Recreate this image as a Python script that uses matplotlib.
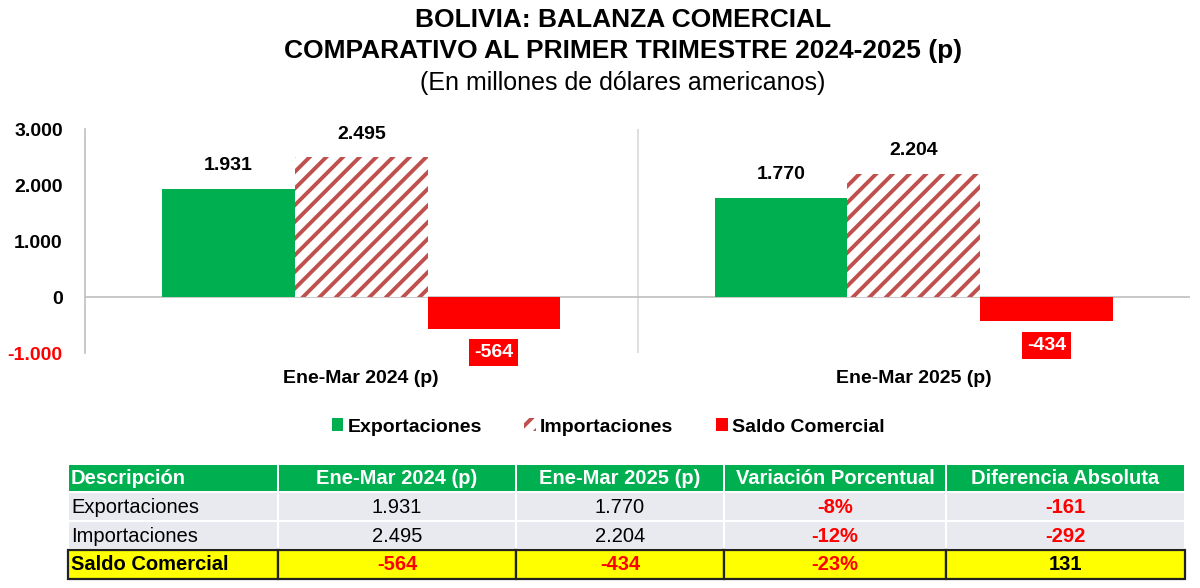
import matplotlib.pyplot as plt
import matplotlib.patches as mpatches
import numpy as np

plt.rcParams['font.family'] = ['Liberation Sans', 'DejaVu Sans']
plt.rcParams['hatch.linewidth'] = 2.8

periodos = ['Ene-Mar 2024 (p)', 'Ene-Mar 2025 (p)']
exportaciones = [1931, 1770]
importaciones = [2495, 2204]
saldo = [-564, -434]

variacion = ['-8%', '-12%', '-23%']
diferencia = [-161, -292, 131]

verde = '#00B050'
rojo = '#FF0000'
ladrillo = '#C0504D'
gris = '#BFBFBF'


def fmt(v):
    return f'{v:,}'.replace(',', '.')


fig = plt.figure(figsize=(12, 5.88), dpi=100)

# titulos
fig.text(623 / 1200, 1 - 20 / 588, 'BOLIVIA: BALANZA COMERCIAL', ha='center', va='center',
         fontsize=19, fontweight='bold')
fig.text(623 / 1200, 1 - 51 / 588, 'COMPARATIVO AL PRIMER TRIMESTRE 2024-2025 (p)', ha='center',
         va='center', fontsize=19, fontweight='bold')
fig.text(623 / 1200, 1 - 83 / 588, '(En millones de dólares americanos)', ha='center', va='center',
         fontsize=18)

# grafico
ax = fig.add_axes([85 / 1200, 1 - 353 / 588, (1190 - 85) / 1200, (353 - 129) / 588])
x = np.arange(len(periodos))
w = 0.24

b1 = ax.bar(x - w, exportaciones, w, color=verde, label='Exportaciones', zorder=3)
b2 = ax.bar(x, importaciones, w, color='white', edgecolor=ladrillo, hatch='//', linewidth=0,
            label='Importaciones', zorder=3)
b3 = ax.bar(x + w, saldo, w, color=rojo, label='Saldo Comercial', zorder=3)

for bars in (b1, b2):
    for r in bars:
        ax.annotate(fmt(int(r.get_height())), (r.get_x() + r.get_width() / 2, r.get_height()),
                    xytext=(0, 23), textcoords='offset pixels', ha='center', va='center',
                    fontsize=14, fontweight='bold')
for r, v in zip(b3, saldo):
    ax.annotate(fmt(v), (r.get_x() + r.get_width() / 2, v), xytext=(0, -24),
                textcoords='offset pixels', ha='center', va='center', fontsize=14,
                fontweight='bold', color='white',
                bbox=dict(boxstyle='square,pad=0.25', fc=rojo, ec='none'))

ax.set_xlim(-0.5, 1.5)
ax.set_ylim(-1000, 3000)
ax.set_yticks([-1000, 0, 1000, 2000, 3000])
ax.set_yticklabels([fmt(v) for v in [-1000, 0, 1000, 2000, 3000]], fontsize=14, fontweight='bold')
ax.get_yticklabels()[0].set_color(rojo)
ax.set_xticks(x)
ax.set_xticklabels(periodos, fontsize=14, fontweight='bold')
ax.tick_params(axis='y', length=0, pad=16)
ax.tick_params(axis='x', length=0, pad=12)
for s in ['top', 'right', 'bottom']:
    ax.spines[s].set_visible(False)
ax.spines['left'].set_color(gris)
ax.spines['left'].set_linewidth(1.2)
ax.axhline(0, color=gris, lw=1.2, zorder=2)
ax.axvline(0.5, color='#D9D9D9', lw=1.2, zorder=1)

fig.legend(handles=[b1, b2, b3], loc='center', bbox_to_anchor=(608 / 1200, 1 - 427 / 588), ncol=3,
           frameon=False, prop={'weight': 'bold', 'size': 14}, handlelength=0.6,
           handleheight=0.6, handletextpad=0.2, columnspacing=2.2)

# tabla
tx = fig.add_axes([0, 0, 1, 1])
tx.set_xlim(0, 1200)
tx.set_ylim(588, 0)
tx.axis('off')

cols = [68, 278, 516, 724, 946, 1185]
rows = [465, 493, 522, 550, 579]
encabezado = ['Descripción', periodos[0], periodos[1], 'Variación Porcentual', 'Diferencia Absoluta']
filas = [
    ['Exportaciones', fmt(exportaciones[0]), fmt(exportaciones[1]), variacion[0], fmt(diferencia[0])],
    ['Importaciones', fmt(importaciones[0]), fmt(importaciones[1]), variacion[1], fmt(diferencia[1])],
    ['Saldo Comercial', fmt(saldo[0]), fmt(saldo[1]), variacion[2], fmt(diferencia[2])],
]

for j in range(5):
    x0, x1 = cols[j], cols[j + 1]
    # encabezado
    tx.add_patch(mpatches.Rectangle((x0 + 1, rows[0]), x1 - x0 - 2, rows[1] - rows[0] - 2, fc=verde, ec='none'))
    tx.text(x0 + 3 if j == 0 else (x0 + x1) / 2, (rows[0] + rows[1]) / 2 - 1, encabezado[j],
            ha='left' if j == 0 else 'center', va='center', color='white', fontsize=14.5, fontweight='bold')
    for i in range(3):
        y0, y1 = rows[i + 1], rows[i + 2]
        if i < 2:
            tx.add_patch(mpatches.Rectangle((x0 + 1, y0), x1 - x0 - 2, y1 - y0 - 2, fc='#E8EAF0', ec='none'))
            color = rojo if j >= 3 else 'black'
            peso = 'bold' if j >= 3 else 'normal'
        else:
            tx.add_patch(mpatches.Rectangle((x0, y0), x1 - x0, y1 - y0, fc='#FFFF00', ec='#222222', lw=1.6))
            color = 'black' if (j == 0 or j == 4) else rojo
            peso = 'bold'
        tx.text(x0 + 3 if j == 0 else (x0 + x1) / 2, (y0 + y1) / 2, filas[i][j],
                ha='left' if j == 0 else 'center', va='center', color=color, fontsize=14.5,
                fontweight=peso)

fig.savefig('out.png', dpi=100)
